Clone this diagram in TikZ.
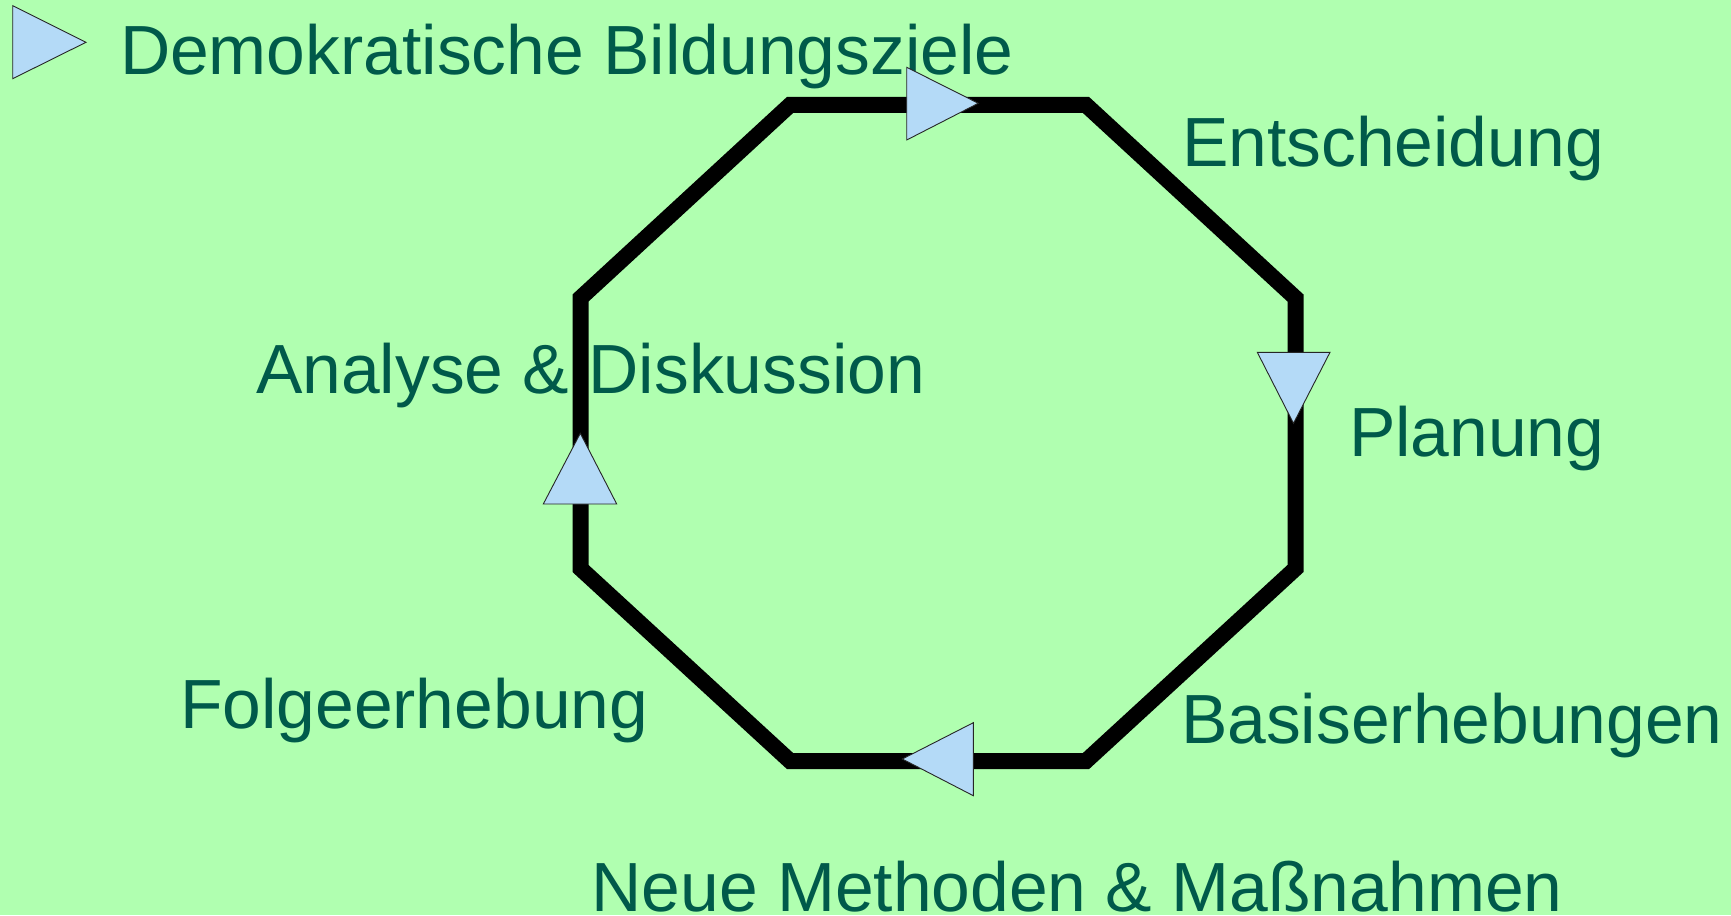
\documentclass[tikz,border=0pt]{standalone}
\usepackage{fontspec}
\setmainfont{Liberation Sans}
\definecolor{bg}{RGB}{176,255,176}
\definecolor{txt}{RGB}{0,90,74}
\definecolor{tri}{RGB}{180,218,247}
\begin{document}
\begin{tikzpicture}[x=1pt,y=-1pt,
  lbl/.style={anchor=base west,inner sep=0pt,outer sep=0pt,text=txt,font=\fontsize{69.6}{80}\selectfont},
  ring/.style={draw=black,line width=16pt,line join=miter},
  marker/.style={fill=tri,draw=black!85,line width=0.9pt,line join=miter}]
% page
\fill[bg] (0,0) rectangle (1731,915);
\useasboundingbox (0,0) rectangle (1731,915);

% labels
\node[lbl] (ziele)  at (120,75)    {Demokratische Bildungsziele};
\node[lbl] (entsch) at (1182,166.7) {Entscheidung};
\node[lbl] (plan)   at (1349,456)  {Planung};
\node[lbl] (anal)   at (256,393.3) {Analyse \& Diskussion};
\node[lbl] (folge)  at (180,728.3) {Folgeerhebung};
\node[lbl] (basis)  at (1181,743.3) {Basiserhebungen};
\node[lbl] (neue)   at (591.5,911.7) {Neue Methoden \& Maßnahmen};

% octagon corners
\coordinate (tl) at (790,105);
\coordinate (tr) at (1086,105);
\coordinate (ru) at (1295.5,298);
\coordinate (rl) at (1295.5,568.5);
\coordinate (br) at (1086,761);
\coordinate (bl) at (790,761);
\coordinate (ll) at (580.5,568.5);
\coordinate (lu) at (580.5,298);
\draw[ring] (tl) -- (tr) -- (ru) -- (rl) -- (br) -- (bl) -- (ll) -- (lu) -- cycle;

% direction markers
\draw[marker] (12.7,5.7) -- (12.7,78.7) -- (86,42.3) -- cycle;
\draw[marker] (906.7,67.3) -- (906.7,140) -- (978.3,103.3) -- cycle;
\draw[marker] (1257.3,352.3) -- (1330,352.3) -- (1293.5,423.3) -- cycle;
\draw[marker] (543.3,504) -- (616.7,504) -- (580.3,433.3) -- cycle;
\draw[marker] (973.3,722.7) -- (973.3,795.7) -- (902.3,759) -- cycle;
\end{tikzpicture}
\end{document}
